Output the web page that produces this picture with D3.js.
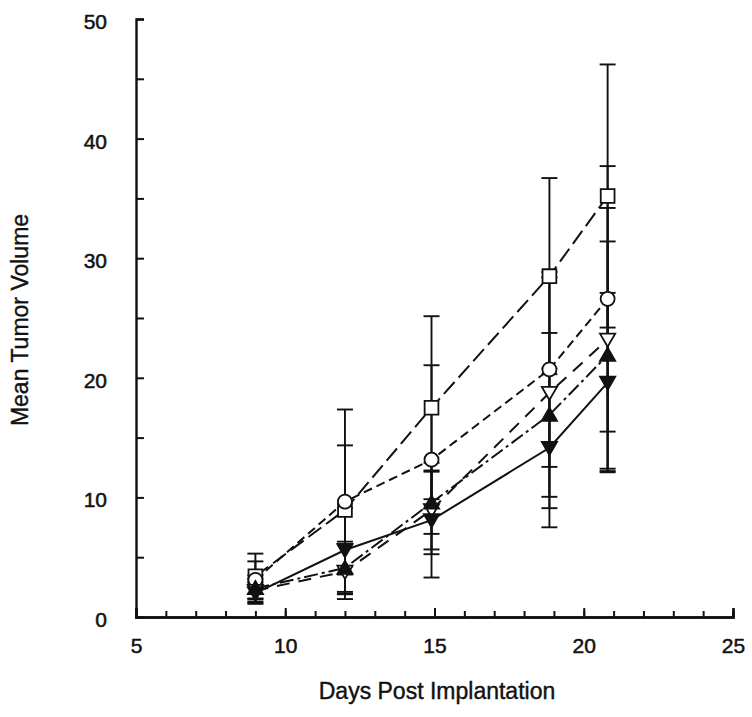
<!DOCTYPE html>
<html>
<head>
<meta charset="utf-8">
<script src="https://cdn.jsdelivr.net/npm/d3@7"></script>
<style>
  html, body { margin: 0; padding: 0; background: #fff; }
  svg { display: block; }
  text { font-family: "Liberation Sans", Arial, Helvetica, sans-serif; fill: #111; }
</style>
</head>
<body>
<svg id="chart" width="752" height="717"></svg>
<script>
// ---- data ----
const days = [9, 12, 14.9, 18.85, 20.8];

const squareMean = [3.4, 8.95, 17.5, 28.5, 35.2];
const squareErr  = [1.9, 5.4, 7.65, 8.2, 11.0];

const circleMean = [3.1, 9.65, 13.15, 20.7, 26.6];
const circleErr  = [1.55, 7.7, 7.9, 8.15, 11.1];

const openDownMean = [2.2, 3.8, 8.95, 18.75, 23.2];
const openDownErr  = [1.0, 2.3, 3.3, 9.65, 11.0];

const filledUpMean = [2.4, 4.1, 9.55, 16.9, 21.9];
const filledUpErr  = [1.1, 2.2, 2.6, 6.85, 9.5];

const filledDownMean = [2.0, 5.6, 8.1, 14.15, 19.6];
const filledDownErr  = [0.9, 3.5, 4.8, 6.65, 7.5];

const xTickLabels = [5, 10, 15, 20, 25];
const xMinorTicks = d3.range(5, 26, 1);
const yTickValues = [0, 5, 10, 15, 20, 25, 30, 35, 40, 45, 50];

const xTitle = "Days Post Implantation";
const yTitle = "Mean Tumor Volume";

// ---- series definitions (styles) ----
const series = [
  { name: "square",     mean: squareMean,     err: squareErr,     marker: "square",   fill: "#fff", dash: "16,6" },
  { name: "circle",     mean: circleMean,     err: circleErr,     marker: "circle",   fill: "#fff", dash: "9,5" },
  { name: "openDown",   mean: openDownMean,   err: openDownErr,   marker: "down",     fill: "#fff", dash: "13,9" },
  { name: "filledUp",   mean: filledUpMean,   err: filledUpErr,   marker: "up",       fill: "#111", dash: "14,4,3,4" },
  { name: "filledDown", mean: filledDownMean, err: filledDownErr, marker: "down",     fill: "#111", dash: null }
];

// ---- layout ----
const svg = d3.select("#chart");
const x = d3.scaleLinear().domain([5, 25]).range([136, 733]);
const y = d3.scaleLinear().domain([0, 50]).range([617, 19]);

const ink = "#111";

// axes
const gx = svg.append("g").attr("transform", `translate(0,${y(0)})`);
gx.call(d3.axisBottom(x).tickValues(xMinorTicks).tickSize(-6).tickFormat(""));
const gx2 = svg.append("g").attr("transform", `translate(0,${y(0)})`);
gx2.call(d3.axisBottom(x).tickValues(xTickLabels).tickSize(-9).tickPadding(21).tickFormat(d3.format("d")));

const gy = svg.append("g").attr("transform", `translate(${x(5)},0)`);
gy.call(d3.axisLeft(y).tickValues(yTickValues).tickSize(-8).tickPadding(29)
  .tickFormat(d => d % 10 === 0 ? d3.format("d")(d) : ""));

[gx, gx2, gy].forEach(g => {
  g.select(".domain").attr("stroke", ink).attr("stroke-width", 2.4);
  g.selectAll(".tick line").attr("stroke", ink).attr("stroke-width", 2);
  g.selectAll(".tick text").attr("font-size", 21).attr("fill", ink)
    .attr("stroke", ink).attr("stroke-width", 0.5)
    .style("font-family", '"Liberation Sans", Arial, sans-serif');
});
gy.selectAll(".tick text").attr("dy", "0.45em");

// titles
svg.append("text")
  .attr("x", 437).attr("y", 699)
  .attr("text-anchor", "middle")
  .attr("font-size", 23)
  .attr("stroke", ink).attr("stroke-width", 0.4)
  .text(xTitle);

svg.append("text")
  .attr("transform", "translate(28,320) rotate(-90)")
  .attr("text-anchor", "middle")
  .attr("font-size", 23)
  .attr("stroke", ink).attr("stroke-width", 0.4)
  .text(yTitle);

// lines
const line = d3.line().x(d => x(d.x)).y(d => y(d.y));
series.forEach(s => {
  const pts = days.map((d, i) => ({ x: d, y: s.mean[i] }));
  svg.append("path")
    .datum(pts)
    .attr("d", line)
    .attr("fill", "none")
    .attr("stroke", ink)
    .attr("stroke-width", 2)
    .attr("stroke-dasharray", s.dash);
});

// error bars
const capHalf = 8;
series.forEach(s => {
  const g = svg.append("g");
  days.forEach((d, i) => {
    const lo = s.mean[i] - s.err[i], hi = s.mean[i] + s.err[i];
    g.append("line").attr("x1", x(d)).attr("x2", x(d)).attr("y1", y(lo)).attr("y2", y(hi))
      .attr("stroke", ink).attr("stroke-width", 1.9);
    [lo, hi].forEach(v => {
      g.append("line").attr("x1", x(d) - capHalf).attr("x2", x(d) + capHalf)
        .attr("y1", y(v)).attr("y2", y(v))
        .attr("stroke", ink).attr("stroke-width", 1.9);
    });
  });
});

// markers
const symSquare = d3.symbol().type(d3.symbolSquare).size(190);
const symCircle = d3.symbol().type(d3.symbolCircle).size(155);
const symTri = d3.symbol().type(d3.symbolTriangle).size(100);
series.forEach(s => {
  const g = svg.append("g");
  days.forEach((d, i) => {
    let path, rot = 0;
    if (s.marker === "square") path = symSquare();
    else if (s.marker === "circle") path = symCircle();
    else { path = symTri(); rot = s.marker === "down" ? 180 : 0; }
    const dy = s.marker === "down" ? -1.5 : (s.marker === "up" ? 1.5 : 0);
    g.append("path")
      .attr("d", path)
      .attr("transform", `translate(${x(d)},${y(s.mean[i]) + dy}) rotate(${rot})`)
      .attr("fill", s.fill)
      .attr("stroke", ink)
      .attr("stroke-width", 1.8);
  });
});
</script>
</body>
</html>
